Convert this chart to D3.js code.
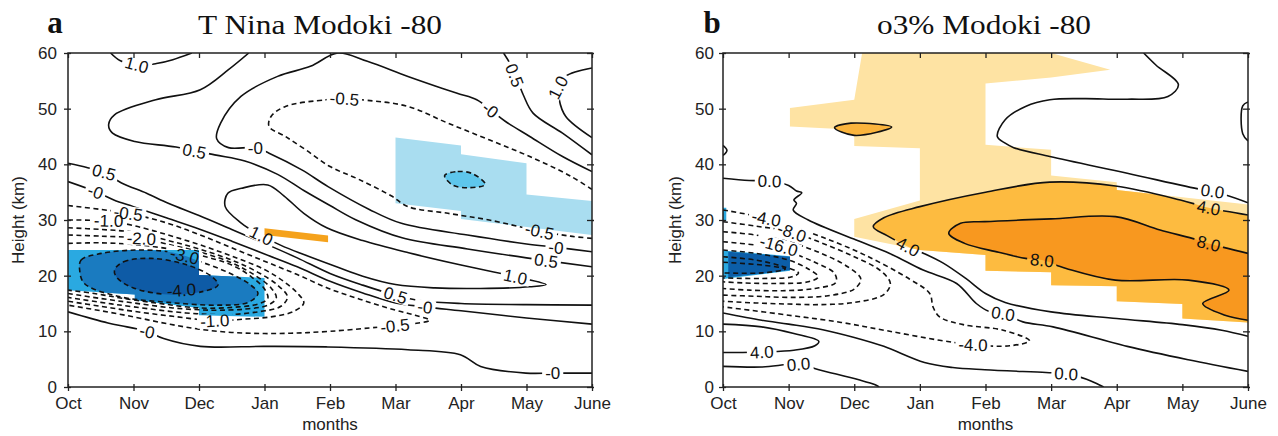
<!DOCTYPE html>
<html>
<head>
<meta charset="utf-8">
<script src="https://cdn.jsdelivr.net/npm/d3@7"></script>
<style>
  body { margin: 0; background: #fff; }
  svg { display: block; }
  .tick line { stroke: #222; stroke-width: 1.3; }
  .tick text { fill: #222; }
</style>
</head>
<body>
<svg id="chart" width="1278" height="436"></svg>
<script>
// axis labels
const months = ['Oct', 'Nov', 'Dec', 'Jan', 'Feb', 'Mar', 'Apr', 'May', 'June']
const heights = [0, 10, 20, 30, 40, 50, 60]

// ---- panel a: temperature contours, [month index, km] ----
const tPos10TopLeft = [[0.65, 60], [0.8, 58.6], [1.05, 57.8], [1.35, 58.1], [1.6, 58.8], [1.89, 60]]
const tPos05Main = [[2.76, 60], [2.45, 57], [2.02, 53.4], [1.34, 51.6], [0.71, 48.9], [0.62, 47.1], [0.68, 45.6], [1.02, 44.1], [1.65, 43.1], [2.24, 41.7], [2.7, 40.6], [3.2, 38.2], [3.6, 35.3], [4.0, 32.6], [4.4, 30.0], [5.1, 26.8], [6.1, 24.8], [7.0, 23.2], [8, 21.6]]
const tZeroMain = [[8, 38.7], [7.55, 41.4], [7.05, 45], [6.68, 47.7], [6.45, 49.8], [6.24, 51.6], [5.93, 52.8], [5.19, 55.8], [4.57, 58.5], [4.12, 60], [3.7, 57.6], [3.2, 55.8], [2.64, 52.2], [2.33, 47.4], [2.27, 44.6], [2.45, 43.0], [2.86, 43.0], [3.07, 42.0], [3.57, 39.0], [3.97, 36.0], [4.6, 31.9], [5.09, 29.4], [6.1, 27.3], [7.0, 25.7], [7.45, 25.1], [8, 24.3]]
const tPos05TopRight = [[6.65, 60], [6.8, 57], [6.95, 52.5], [7.1, 49.2], [7.55, 45.6], [8, 41.7]]
const tPos10TopRight = [[8, 57.3], [7.6, 55.8], [7.5, 53.5], [7.5, 51.6], [7.6, 48.6], [8, 44.8]]
const tNeg05Upper = [[8, 35.5], [7.67, 37.9], [7.05, 41.4], [6.43, 44.4], [5.8, 47.4], [5.19, 50.4], [4.57, 51.5], [4.22, 51.8], [3.94, 51.6], [3.32, 50.4], [3.1, 48.6], [3.07, 46.8], [3.32, 45], [3.63, 42.6], [4.0, 39.6], [4.44, 37.3], [4.94, 34.3], [5.19, 32.4], [5.8, 31.2], [6.43, 30], [7.2, 28.0], [7.67, 27.1], [8, 26.7]]
const tNeg10Small = [[5.75, 38.0], [5.95, 38.7], [6.18, 38.3], [6.37, 36.4], [6.12, 35.8], [5.87, 36.3], [5.75, 38.0]]
const tPos05Lower = [[0, 40.2], [0.3, 39.4], [0.55, 38.6], [0.81, 36.7], [1.2, 34.8], [1.53, 33.0], [2.0, 30.8], [2.5, 28.3], [3.0, 25.8], [3.5, 23.2], [4.0, 20.4], [4.5, 18.3], [5.0, 16.5], [5.4, 15.5], [6.0, 15.0], [7.0, 14.8], [8, 14.7]]
const tZeroLower = [[0, 36.9], [0.42, 35.1], [0.7, 33.6], [1.0, 32.4], [1.5, 30.4], [2.0, 28.4], [2.5, 26.2], [3.0, 23.9], [3.5, 21.6], [4.0, 19.0], [4.5, 16.9], [5.0, 15.1], [5.45, 14.4], [6.0, 13.7], [7.0, 12.4], [8, 11.3]]
const tPos10Loop = [[2.4, 32.4], [2.44, 34.8], [2.65, 35.7], [3.05, 36.3], [3.3, 34.3], [3.6, 31.2], [3.95, 28.6], [4.5, 26.3], [5.2, 24.1], [6.0, 21.9], [6.83, 19.8], [7.3, 18.4], [7.05, 18.0], [6.3, 17.7], [5.6, 17.8], [5.0, 18.4], [4.5, 19.9], [4.1, 21.6], [3.6, 23.8], [3.26, 25.4], [2.95, 27.2], [2.65, 29.4], [2.4, 32.4]]
const tNeg05Cold = [[0, 32.6], [0.5, 31.9], [0.92, 31.2], [1.5, 29.5], [2.0, 27.4], [2.5, 25.0], [3.0, 22.6], [3.5, 20.2], [4.0, 17.6], [4.5, 15.6], [5.0, 13.8], [5.3, 12.9], [5.52, 12.0], [5.3, 11.4], [4.99, 11.0], [4.6, 10.6], [4.0, 10.0], [3.5, 9.7], [3.0, 9.6], [2.5, 9.8], [2.0, 10.4], [1.5, 11.4], [1.0, 12.6], [0.5, 13.7], [0, 14.7]]
const tNeg10Cold = [[0, 30.0], [0.62, 29.8], [1.0, 29.0], [1.5, 27.4], [2.0, 25.6], [2.5, 23.5], [3.0, 21.1], [3.3, 18.9], [3.5, 16.9], [3.6, 15.1], [3.45, 13.6], [3.1, 12.6], [2.7, 12.2], [2.24, 11.9], [1.6, 12.7], [1.0, 13.6], [0.5, 14.5], [0, 15.4]]
const tNeg15Cold = [[0, 28.6], [0.5, 28.3], [1.0, 27.8], [1.5, 26.4], [2.0, 24.8], [2.5, 22.8], [2.9, 20.6], [3.2, 18.3], [3.35, 16.2], [3.25, 14.5], [2.9, 13.5], [2.4, 13.0], [1.8, 13.3], [1.0, 14.4], [0.5, 15.2], [0, 16.1]]
const tNeg20Cold = [[0, 27.3], [0.5, 27.1], [1.12, 26.7], [1.5, 25.7], [2.0, 24.3], [2.5, 22.3], [2.85, 20.1], [3.1, 17.8], [3.18, 16.0], [3.05, 14.7], [2.7, 14.0], [2.2, 13.8], [1.6, 14.2], [1.0, 15.1], [0.5, 15.9], [0, 16.8]]
const tNeg25Cold = [[0, 25.8], [0.5, 25.9], [1.0, 25.6], [1.5, 24.9], [2.0, 23.7], [2.5, 21.9], [2.8, 19.8], [3.0, 17.6], [3.05, 15.9], [2.9, 14.9], [2.5, 14.3], [2.0, 14.2], [1.4, 15.0], [0.8, 16.0], [0.4, 16.8], [0, 17.4]]
const tNeg30Cold = [[0.18, 20.8], [0.2, 22.8], [0.51, 24.0], [1.02, 24.6], [1.53, 24.3], [1.78, 23.6], [1.98, 22.7], [2.44, 20.6], [2.78, 18.4], [2.9, 16.8], [2.75, 15.2], [2.29, 14.7], [1.53, 15.2], [0.76, 16.3], [0.25, 18.6], [0.18, 20.8]]
const tNeg40Cold = [[0.71, 21.0], [0.85, 22.5], [1.27, 23.1], [1.8, 22.0], [2.2, 19.8], [2.29, 18.3], [2.0, 17.0], [1.53, 16.6], [1.0, 17.8], [0.75, 19.6], [0.71, 21.0]]
const tZeroBottom = [[0, 13.5], [0.61, 11.5], [0.9, 10.8], [1.21, 10.0], [1.46, 8.7], [2.02, 7.3], [3.0, 7.3], [3.94, 7.2], [5.19, 6.7], [5.99, 5.8], [6.3, 3.7], [6.99, 2.5], [7.4, 2.5], [8, 2.5]]

// panel a: significance shading
const tSigUpper = [[5.0, 44.8], [6.0, 43.4], [6.0, 41.8], [7.0, 40.2], [7.0, 34.6], [8, 33.4], [8, 27.3], [6.0, 30.2], [6.0, 31.6], [5.0, 33.0]]
const tSigCold = [[0, 24.6], [2.0, 24.6], [2.0, 20.1], [3.0, 19.6], [3.0, 12.6], [2.0, 12.9], [2.0, 14.2], [1.02, 15.6], [1.02, 16.6], [0, 17.4]]
const tSigWarm = [[3.0, 28.5], [3.97, 27.2], [3.97, 26.0], [3.0, 27.3]]

// ---- panel b: ozone % contours ----
const oZeroUpperLeft = [[0, 37.5], [0.4, 37.1], [0.71, 37.0], [1.0, 36.2], [1.12, 35.2], [1.2, 34.9], [1.08, 33.6], [1.12, 33.0], [1.07, 31.8], [1.3, 30.0], [2.03, 26.4], [2.54, 24.0], [3.05, 21.0], [3.56, 18.6], [3.86, 15.0], [4.05, 13.6], [4.27, 13.2], [4.57, 11.7], [5.03, 10.8], [6.16, 7.3], [7.09, 4.9], [8, 2.8]]
const oZeroUpperRight = [[6.41, 60], [6.6, 57.8], [6.94, 54.3], [6.78, 52.2], [6.16, 51.7], [5.5, 51.8], [4.98, 51.6], [4.61, 50.4], [4.3, 48], [4.18, 45], [4.3, 43.8], [4.43, 43.0], [4.98, 41.4], [6.16, 38.4], [7.28, 35.5], [7.46, 35.2], [8, 33.1]]
const oZeroRightBump = [[8, 51.2], [7.92, 50.5], [7.92, 45.5], [8, 44.2]]
const oZeroLeftBump = [[0, 43.4], [0.06, 42.5], [0, 41.6]]
const oPos4 = [[8, 30.9], [7.4, 32.2], [6.97, 33.6], [5.98, 36.1], [4.98, 36.8], [4.0, 35.0], [3.0, 32.4], [2.45, 30.4], [2.29, 28.8], [2.5, 27.2], [2.82, 25.2], [3.06, 24.0], [3.35, 22.3], [3.7, 19.5], [4.0, 16.8], [4.3, 15.2], [5.0, 13.5], [6.0, 12.3], [7.0, 11.2], [7.6, 10.2], [8, 9.1]]
const oPos8 = [[8, 24.0], [7.4, 25.8], [7.15, 26.7], [6.66, 28.2], [5.98, 30.6], [5.0, 30.2], [3.99, 29.7], [3.62, 29.4], [3.44, 27.6], [3.68, 25.8], [4.2, 24.2], [4.61, 23.1], [4.86, 22.8], [5.23, 21.3], [5.98, 19.2], [7.09, 19.2], [7.71, 17.4], [7.31, 15.0], [7.65, 12.9], [8, 12.0]]
const oPos4Diamond = [[1.7, 46.6], [1.95, 47.4], [2.57, 46.7], [2.0, 45.2], [1.7, 46.6]]
const oNeg4 = [[0, 31.8], [0.66, 30.3], [1.0, 29.0], [1.52, 26.9], [2.18, 23.6], [2.84, 19.4], [3.15, 16.8], [3.2, 14.4], [3.3, 12.6], [3.66, 11.2], [4.27, 10.2], [4.67, 8.3], [4.37, 7.4], [3.81, 7.6], [3.3, 8.4], [2.5, 10.1], [1.8, 11.6], [1.0, 12.9], [0, 14.4]]
const oNeg8 = [[0, 29.7], [0.5, 28.9], [1.02, 27.9], [1.5, 25.9], [2.0, 23.4], [2.4, 20.9], [2.55, 18.6], [2.45, 16.6], [2.0, 15.2], [1.5, 14.8], [1.0, 14.9], [0.5, 15.1], [0, 15.4]]
const oNeg12 = [[0, 27.9], [0.5, 27.3], [1.0, 26.1], [1.5, 24.0], [1.9, 21.6], [2.1, 19.4], [2.0, 17.6], [1.6, 16.4], [1.0, 16.1], [0.5, 16.3], [0, 16.5]]
const oNeg16 = [[0, 26.1], [0.5, 25.5], [0.82, 24.9], [1.0, 24.3], [1.4, 22.4], [1.7, 20.4], [1.72, 18.8], [1.4, 17.7], [0.9, 17.3], [0.4, 17.4], [0, 17.7]]
const oNeg20 = [[0, 24.6], [0.5, 24.0], [1.0, 22.8], [1.3, 21.2], [1.45, 19.8], [1.3, 18.9], [0.8, 18.6], [0.3, 18.7], [0, 18.9]]
const oNeg24 = [[0, 23.4], [0.5, 22.8], [0.9, 21.7], [1.15, 20.5], [1.05, 19.8], [0.6, 19.5], [0, 19.6]]
const oNeg28 = [[0, 22.4], [0.6, 21.9], [0.95, 21.2], [0.6, 20.5], [0, 20.5]]
const oZeroMid = [[0, 13.3], [0.59, 12.0], [1.0, 11.3], [1.52, 10.3], [2.0, 8.9], [2.45, 7.3], [3.07, 4.4], [3.5, 3.5], [3.99, 3.1], [4.92, 2.6], [5.23, 2.4], [5.54, 1.4], [5.73, 0.4], [5.8, 0]]
const oPos4Low = [[0, 11.3], [0.59, 10.8], [1.08, 9.6], [1.46, 8.2], [1.4, 7.4], [1.08, 6.6], [0.59, 6.3], [0.3, 6.2], [0, 6.2]]
const oZeroBottom = [[0, 3.7], [0.6, 3.6], [1.15, 4.1], [1.46, 3.1], [2.07, 1.3], [2.32, 0.4], [2.38, 0]]

// panel b: significance shading
const oSig = [[2.12, 60], [5.0, 60], [5.9, 57.0], [5.0, 55.6], [4.0, 54.5], [4.0, 43.5], [5.0, 42.6], [5.0, 38.0], [6.0, 36.8], [6.0, 35.4], [8, 32.8], [8, 11.6], [7.0, 12.3], [7.0, 14.9], [6.0, 15.4], [6.0, 18.1], [5.0, 18.3], [5.0, 20.6], [4.0, 20.9], [4.0, 23.7], [3.0, 24.6], [2.0, 27.0], [2.0, 30.2], [3.0, 33.5], [3.0, 42.9], [2.0, 43.3], [2.0, 46.2], [1.02, 46.8], [1.02, 50.1], [2.0, 51.6]]
const oSigBlue = [[0, 24.5], [1.02, 23.5], [1.02, 20.9], [0, 19.4]]
const oSigBlueCore = [[0.08, 24.3], [1.02, 23.4], [1.02, 21.0], [0.08, 19.7]]
const oSigBlueTick = [[0, 32.2], [0.05, 32.2], [0.05, 29.8], [0, 29.8]]

// contour tables: [level, line, label spots]
const tContours = [
  [1.0, tPos10TopLeft, [[1.05, 57.9]]],
  [0.5, tPos05Main, [[1.93, 42.4], [7.3, 22.7]]],
  [0, tZeroMain, [[2.86, 43.0], [6.45, 49.8], [7.45, 25.1]]],
  [0.5, tPos05TopRight, [[6.82, 56.0]]],
  [1.0, tPos10TopRight, [[7.48, 53.8]]],
  [-0.5, tNeg05Upper, [[4.22, 51.8], [7.2, 28.0]]],
  [-1.0, tNeg10Small, []],
  [0.5, tPos05Lower, [[0.55, 38.6], [5.0, 16.5]]],
  [0, tZeroLower, [[0.42, 35.1], [5.45, 14.4]]],
  [1.0, tPos10Loop, [[2.95, 27.2], [6.83, 19.8]]],
  [-0.5, tNeg05Cold, [[0.92, 31.2], [4.99, 11.0]]],
  [-1.0, tNeg10Cold, [[0.62, 29.9], [2.24, 11.9]]],
  [-1.5, tNeg15Cold, []],
  [-2.0, tNeg20Cold, [[1.12, 26.7]]],
  [-2.5, tNeg25Cold, []],
  [-3.0, tNeg30Cold, [[1.78, 23.6]]],
  [-4.0, tNeg40Cold, [[1.73, 17.4]]],
  [0, tZeroBottom, [[1.21, 10.0], [7.4, 2.5]]]
]

const oContours = [
  [0, oZeroUpperLeft, [[0.71, 37.0], [4.27, 13.2]]],
  [0, oZeroUpperRight, [[7.46, 35.2]]],
  [0, oZeroRightBump, []],
  [0, oZeroLeftBump, []],
  [4, oPos4, [[7.4, 32.2], [2.82, 25.2]]],
  [8, oPos8, [[7.4, 25.8], [4.86, 22.8]]],
  [4, oPos4Diamond, []],
  [-4, oNeg4, [[0.66, 30.3], [3.81, 7.6]]],
  [-8, oNeg8, [[1.05, 27.8]]],
  [-12, oNeg12, []],
  [-16, oNeg16, [[0.85, 25.4]]],
  [-20, oNeg20, []],
  [-24, oNeg24, []],
  [-28, oNeg28, []],
  [0, oZeroMid, [[5.23, 2.4]]],
  [4, oPos4Low, [[0.59, 6.3]]],
  [0, oZeroBottom, [[1.15, 4.1]]]
]

const sans = '"Liberation Sans", Arial, sans-serif'
const serif = '"Liberation Serif", "Times New Roman", serif'
const plotTop = 53
const plotH = 334

const svg = d3.select('#chart')
const defs = svg.append('defs')

function isClosed (pts) {
  const a = pts[0]
  const b = pts[pts.length - 1]
  return a[0] === b[0] && a[1] === b[1]
}

// direction of the contour next to a label, in screen space
function localAngle (pts, px, py, x, y) {
  let best = Infinity
  let ang = 0
  for (let i = 0; i < pts.length - 1; i++) {
    const x1 = x(pts[i][0]); const y1 = y(pts[i][1])
    const x2 = x(pts[i + 1][0]); const y2 = y(pts[i + 1][1])
    const dx = x2 - x1; const dy = y2 - y1
    const len2 = dx * dx + dy * dy || 1
    const t = Math.max(0, Math.min(1, ((px - x1) * dx + (py - y1) * dy) / len2))
    const d = Math.hypot(px - (x1 + t * dx), py - (y1 + t * dy))
    if (d < best) {
      best = d
      ang = Math.atan2(dy, dx) * 180 / Math.PI
    }
  }
  if (ang > 90) ang -= 180
  if (ang < -90) ang += 180
  return ang
}

function drawPanel (p) {
  const x = d3.scaleLinear().domain([0, months.length - 1]).range([0, p.width])
  const y = d3.scaleLinear().domain([0, 60]).range([plotH, 0])

  const smooth = d3.line().x(d => x(d[0])).y(d => y(d[1])).curve(d3.curveCatmullRom.alpha(0.5))
  const smoothClosed = d3.line().x(d => x(d[0])).y(d => y(d[1])).curve(d3.curveCatmullRomClosed.alpha(0.5))
  const straight = d3.line().x(d => x(d[0])).y(d => y(d[1]))
  const contourPath = pts => isClosed(pts) ? smoothClosed(pts.slice(0, -1)) : smooth(pts)

  const g = svg.append('g').attr('transform', `translate(${p.left},${plotTop})`)

  defs.append('clipPath').attr('id', p.id + '-plot')
    .append('rect').attr('width', p.width).attr('height', plotH)

  // shading
  const fills = g.append('g').attr('clip-path', `url(#${p.id}-plot)`)
  p.shading.forEach((s, i) => {
    let target = fills
    if (s.within) {
      defs.append('clipPath').attr('id', `${p.id}-sig${i}`)
        .append('path').attr('d', straight(s.within) + 'Z')
      target = fills.append('g').attr('clip-path', `url(#${p.id}-sig${i})`)
    }
    target.append('path')
      .attr('d', (s.smooth ? contourPath(s.pts) : straight(s.pts)) + 'Z')
      .attr('fill', s.color)
  })

  // gaps for labels
  const mask = defs.append('mask').attr('id', p.id + '-gaps')
    .attr('maskUnits', 'userSpaceOnUse')
    .attr('x', -20).attr('y', -20).attr('width', p.width + 40).attr('height', plotH + 40)
  mask.append('rect')
    .attr('x', -20).attr('y', -20).attr('width', p.width + 40).attr('height', plotH + 40)
    .attr('fill', '#fff')

  const lines = g.append('g').attr('clip-path', `url(#${p.id}-plot)`)
    .append('g').attr('mask', `url(#${p.id}-gaps)`)
  const labels = g.append('g')
    .attr('font-family', sans).attr('font-size', 17).attr('fill', '#111')

  p.contours.forEach(([level, pts, spots]) => {
    lines.append('path')
      .attr('d', contourPath(pts))
      .attr('fill', 'none')
      .attr('stroke', '#111')
      .attr('stroke-width', 1.6)
      .attr('stroke-dasharray', level < 0 ? '5,3.5' : null)

    spots.forEach(([m, h]) => {
      const px = x(m)
      const py = y(h)
      const ang = localAngle(pts, px, py, x, y)
      const tf = `translate(${px},${py}) rotate(${ang})`
      const t = labels.append('text')
        .attr('transform', tf)
        .attr('text-anchor', 'middle')
        .attr('dy', '0.36em')
        .text(p.fmt(level))
      const w = t.node().getComputedTextLength()
      mask.append('rect')
        .attr('transform', tf)
        .attr('x', -w / 2 - 3).attr('y', -7)
        .attr('width', w + 6).attr('height', 14)
        .attr('fill', '#000')
    })
  })

  // axes
  const idx = d3.range(months.length)
  const styleAxis = sel => {
    sel.select('.domain').remove()
    sel.attr('font-family', sans).attr('font-size', 17)
  }
  g.append('g').attr('transform', `translate(0,${plotH})`)
    .call(d3.axisBottom(x).tickValues(idx).tickFormat(i => months[i]).tickSize(4).tickPadding(6))
    .call(styleAxis)
  g.append('g').attr('transform', `translate(0,${plotH})`)
    .call(d3.axisTop(x).tickValues(idx).tickFormat('').tickSize(3))
    .call(styleAxis)
  g.append('g')
    .call(d3.axisTop(x).tickValues(idx).tickFormat('').tickSize(-5))
    .call(styleAxis)
  g.append('g')
    .call(d3.axisLeft(y).tickValues(heights).tickSize(4).tickPadding(p.yPad))
    .call(styleAxis)
  g.append('g')
    .call(d3.axisRight(y).tickValues(heights).tickFormat('').tickSize(3))
    .call(styleAxis)
  g.append('g').attr('transform', `translate(${p.width},0)`)
    .call(d3.axisLeft(y).tickValues(heights).tickFormat('').tickSize(5))
    .call(styleAxis)
  g.append('g').attr('transform', `translate(${p.width},0)`)
    .call(d3.axisRight(y).tickValues(heights).tickFormat('').tickSize(2))
    .call(styleAxis)

  g.append('rect')
    .attr('width', p.width).attr('height', plotH)
    .attr('fill', 'none').attr('stroke', '#222').attr('stroke-width', 1.5)

  // titles
  g.append('text')
    .attr('x', p.width / 2).attr('y', 430 - plotTop)
    .attr('text-anchor', 'middle')
    .attr('font-family', sans).attr('font-size', 17).attr('fill', '#222')
    .text('months')
  svg.append('text')
    .attr('transform', `translate(${p.ylabelX},${plotTop + plotH / 2}) rotate(-90)`)
    .attr('text-anchor', 'middle')
    .attr('font-family', sans).attr('font-size', 17).attr('fill', '#222')
    .text('Height (km)')
  svg.append('text')
    .attr('x', p.titleX).attr('y', 34)
    .attr('text-anchor', 'middle')
    .attr('font-family', serif).attr('font-size', 27).attr('fill', '#111')
    .attr('textLength', p.titleWidth).attr('lengthAdjust', 'spacingAndGlyphs')
    .text(p.title)
  svg.append('text')
    .attr('x', p.letterX).attr('y', 33)
    .attr('text-anchor', 'middle')
    .attr('font-family', serif).attr('font-size', 31).attr('font-weight', 'bold').attr('fill', '#111')
    .text(p.letter)
}

drawPanel({
  id: 'pa',
  left: 68,
  width: 524,
  letter: 'a',
  letterX: 55,
  title: 'T Nina Modoki -80',
  titleX: 320,
  titleWidth: 244,
  ylabelX: 24,
  yPad: 7,
  fmt: v => v === 0 ? '-0' : v.toFixed(1),
  contours: tContours,
  shading: [
    { pts: tSigUpper, color: '#a9ddf0' },
    { pts: tNeg10Small, color: '#5ec6ec', smooth: true },
    { pts: tSigWarm, color: '#f5a21c' },
    { pts: tSigCold, color: '#2aa9e1' },
    { pts: tNeg30Cold, color: '#1a7bc0', within: tSigCold, smooth: true },
    { pts: tNeg40Cold, color: '#0e5ba6', within: tSigCold, smooth: true }
  ]
})

drawPanel({
  id: 'pb',
  left: 723,
  width: 525,
  letter: 'b',
  letterX: 712,
  title: 'o3% Modoki -80',
  titleX: 984,
  titleWidth: 214,
  ylabelX: 681,
  yPad: 5,
  fmt: v => v.toFixed(1),
  contours: oContours,
  shading: [
    { pts: oSig, color: '#fee3a3' },
    { pts: oPos4, color: '#fdbb40', within: oSig, smooth: true },
    { pts: oPos8, color: '#f8981f', within: oSig, smooth: true },
    { pts: oPos4Diamond, color: '#fbb43c', smooth: true },
    { pts: oSigBlue, color: '#2aa9e1' },
    { pts: oSigBlueCore, color: '#0c5ea8' },
    { pts: oSigBlueTick, color: '#2aa9e1' }
  ]
})
</script>
</body>
</html>
